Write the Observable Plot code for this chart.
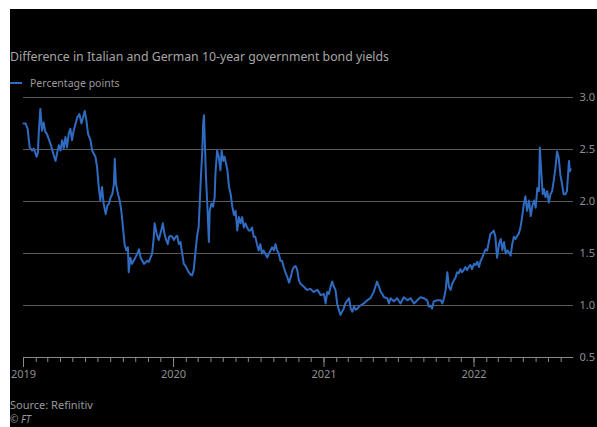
<!DOCTYPE html>
<html><head><meta charset="utf-8">
<script src="https://cdn.jsdelivr.net/npm/d3@7"></script>
<script src="https://cdn.jsdelivr.net/npm/@observablehq/plot@0.6"></script>
<style>
html,body{margin:0;padding:0;background:#fff;}
#frame{position:absolute;left:10px;top:9px;width:587px;height:418px;background:#000;overflow:hidden;font-family:"Noto Sans",sans-serif;color:#9a9a9a;}
#title{position:absolute;left:0;top:40px;font-size:12.3px;line-height:16px;white-space:nowrap;color:#a6a6a6;}
#legend{position:absolute;left:0;top:67px;font-size:10.5px;line-height:14px;white-space:nowrap;color:#9a9a9a;}
#legend .sw{display:inline-block;width:12px;height:2px;background:#2f6bc0;vertical-align:middle;margin-right:8px;position:relative;top:-1px;}
#chart{position:absolute;left:0;top:80px;}
#chart svg{overflow:visible;}
#source{position:absolute;left:0;top:390px;font-size:11px;line-height:12px;color:#9a9a9a;}
#ft{position:absolute;left:0;top:405px;font-size:10px;line-height:11px;color:#9a9a9a;font-style:italic;}
</style></head>
<body>
<div id="frame">
  <div id="title">Difference in Italian and German 10-year government bond yields</div>
  <div id="legend"><span class="sw"></span>Percentage points</div>
  <div id="chart"></div>
  <div id="source">Source: Refinitiv</div>
  <div id="ft">© FT</div>
</div>
<script>
const dates = [
"2019-01-01","2019-01-06","2019-01-11","2019-01-16","2019-01-22","2019-01-26","2019-02-02","2019-02-05","2019-02-07","2019-02-11",
"2019-02-15","2019-02-19","2019-02-23","2019-02-27","2019-03-08","2019-03-16","2019-03-20","2019-03-24","2019-03-28","2019-04-01",
"2019-04-05","2019-04-09","2019-04-13","2019-04-17","2019-04-21","2019-04-25","2019-04-29","2019-05-03","2019-05-12","2019-05-17",
"2019-05-22","2019-05-26","2019-05-30","2019-06-03","2019-06-07","2019-06-13","2019-06-17","2019-06-21","2019-06-25","2019-06-29",
"2019-07-03","2019-07-07","2019-07-11","2019-07-15","2019-07-20","2019-07-24","2019-07-28","2019-08-01","2019-08-05","2019-08-09",
"2019-08-11","2019-08-14","2019-08-19","2019-08-23","2019-08-27","2019-08-30","2019-09-04","2019-09-08","2019-09-12","2019-09-14",
"2019-09-18","2019-09-22","2019-09-26","2019-09-30","2019-10-05","2019-10-09","2019-10-13","2019-10-17","2019-10-21","2019-10-29",
"2019-11-02","2019-11-06","2019-11-10","2019-11-14","2019-11-16","2019-11-21","2019-11-26","2019-12-02","2019-12-06","2019-12-10",
"2019-12-14","2019-12-18","2019-12-21","2019-12-25","2019-12-29","2020-01-02","2020-01-06","2020-01-10","2020-01-14","2020-01-18",
"2020-01-22","2020-01-26","2020-01-30","2020-02-03","2020-02-07","2020-02-11","2020-02-15","2020-02-19","2020-02-23","2020-02-27",
"2020-03-02","2020-03-05","2020-03-08","2020-03-11","2020-03-13","2020-03-15","2020-03-17","2020-03-20","2020-03-23","2020-03-27",
"2020-03-29","2020-04-02","2020-04-06","2020-04-10","2020-04-12","2020-04-16","2020-04-20","2020-04-24","2020-04-27","2020-05-01",
"2020-05-04","2020-05-08","2020-05-11","2020-05-15","2020-05-19","2020-05-23","2020-05-27","2020-05-31","2020-06-04","2020-06-08",
"2020-06-12","2020-06-16","2020-06-20","2020-06-24","2020-06-28","2020-07-02","2020-07-06","2020-07-10","2020-07-14","2020-07-18",
"2020-07-22","2020-07-26","2020-07-30","2020-08-03","2020-08-07","2020-08-11","2020-08-16","2020-08-20","2020-08-24","2020-08-28",
"2020-09-01","2020-09-05","2020-09-09","2020-09-13","2020-09-17","2020-09-21","2020-09-25","2020-09-29","2020-10-04","2020-10-08",
"2020-10-12","2020-10-16","2020-10-20","2020-10-24","2020-10-28","2020-11-01","2020-11-05","2020-11-13","2020-11-21","2020-11-29",
"2020-12-07","2020-12-16","2020-12-24","2021-01-01","2021-01-05","2021-01-09","2021-01-13","2021-01-17","2021-01-21","2021-01-25",
"2021-01-29","2021-02-02","2021-02-06","2021-02-10","2021-02-14","2021-02-18","2021-02-22","2021-02-27","2021-03-03","2021-03-07",
"2021-03-11","2021-03-15","2021-03-19","2021-03-23","2021-03-27","2021-03-31","2021-04-08","2021-04-16","2021-04-24","2021-04-28",
"2021-05-02","2021-05-06","2021-05-10","2021-05-15","2021-05-19","2021-05-23","2021-05-27","2021-06-04","2021-06-08","2021-06-12",
"2021-06-20","2021-06-28","2021-07-06","2021-07-14","2021-07-23","2021-07-31","2021-08-08","2021-08-16","2021-08-24","2021-09-01",
"2021-09-09","2021-09-13","2021-09-17","2021-09-21","2021-09-25","2021-10-04","2021-10-12","2021-10-16","2021-10-20","2021-10-24",
"2021-10-28","2021-11-01","2021-11-05","2021-11-09","2021-11-13","2021-11-17","2021-11-21","2021-11-25","2021-11-29","2021-12-03",
"2021-12-07","2021-12-11","2021-12-15","2021-12-19","2021-12-23","2021-12-27","2022-01-01","2022-01-05","2022-01-09","2022-01-13",
"2022-01-17","2022-01-21","2022-01-25","2022-01-29","2022-02-02","2022-02-06","2022-02-10","2022-02-14","2022-02-18","2022-02-22",
"2022-02-26","2022-03-03","2022-03-07","2022-03-11","2022-03-15","2022-03-19","2022-03-23","2022-03-27","2022-03-31","2022-04-04",
"2022-04-08","2022-04-12","2022-04-16","2022-04-20","2022-04-24","2022-04-28","2022-05-02","2022-05-06","2022-05-10","2022-05-15",
"2022-05-19","2022-05-23","2022-05-27","2022-05-31","2022-06-04","2022-06-08","2022-06-10","2022-06-14","2022-06-17","2022-06-20",
"2022-06-24","2022-06-28","2022-07-02","2022-07-06","2022-07-10","2022-07-14","2022-07-18","2022-07-22","2022-07-26","2022-07-30",
"2022-08-03","2022-08-07","2022-08-11","2022-08-15","2022-08-20","2022-08-22","2022-08-24"
];
const spread = [
2.75,2.75,2.70,2.52,2.49,2.51,2.43,2.47,2.65,2.89,
2.68,2.76,2.67,2.65,2.55,2.44,2.39,2.47,2.54,2.49,
2.59,2.51,2.62,2.52,2.65,2.70,2.59,2.68,2.81,2.84,
2.75,2.81,2.87,2.78,2.65,2.59,2.49,2.46,2.43,2.33,
2.14,2.01,2.14,1.98,1.88,1.96,1.98,2.04,2.07,2.17,
2.41,2.17,2.07,2.01,1.91,1.79,1.59,1.53,1.56,1.32,
1.46,1.40,1.43,1.46,1.50,1.54,1.46,1.43,1.40,1.43,
1.42,1.46,1.50,1.66,1.79,1.69,1.63,1.72,1.79,1.69,
1.63,1.59,1.66,1.67,1.66,1.63,1.66,1.67,1.59,1.61,
1.50,1.40,1.38,1.35,1.32,1.30,1.29,1.34,1.50,1.66,
1.75,2.01,2.27,2.49,2.75,2.83,2.59,2.23,1.98,1.61,
1.91,1.98,1.95,2.04,2.27,2.49,2.43,2.30,2.49,2.39,
2.43,2.36,2.30,2.14,2.07,1.95,1.87,1.91,1.72,1.85,
1.79,1.85,1.75,1.79,1.75,1.72,1.72,1.75,1.66,1.66,
1.59,1.53,1.59,1.50,1.53,1.50,1.46,1.50,1.53,1.56,
1.53,1.59,1.53,1.50,1.43,1.43,1.37,1.32,1.27,1.22,
1.27,1.34,1.37,1.38,1.34,1.24,1.21,1.18,1.15,1.16,
1.13,1.15,1.10,1.11,1.02,1.13,1.11,1.18,1.23,1.18,
1.15,1.02,0.96,0.91,0.94,0.97,1.02,1.05,1.07,0.97,
0.94,0.99,0.96,0.97,0.99,1.00,1.02,1.05,1.07,1.10,
1.13,1.18,1.23,1.18,1.13,1.11,1.08,1.07,1.02,1.07,
1.04,1.07,1.02,1.08,1.05,1.07,1.02,1.05,1.08,1.07,
1.05,0.99,1.00,0.97,1.04,1.05,1.05,1.02,1.07,1.15,
1.32,1.18,1.15,1.21,1.24,1.27,1.32,1.31,1.35,1.32,
1.34,1.37,1.34,1.37,1.39,1.35,1.40,1.39,1.42,1.37,
1.43,1.46,1.50,1.54,1.53,1.61,1.69,1.70,1.72,1.66,
1.46,1.59,1.64,1.53,1.61,1.50,1.53,1.51,1.48,1.59,
1.66,1.64,1.67,1.69,1.75,1.85,1.97,2.05,1.91,2.01,
1.86,1.96,2.01,1.94,2.13,2.10,2.52,2.26,2.07,2.12,
2.04,2.10,1.99,2.07,2.10,2.20,2.32,2.48,2.42,2.26,
2.17,2.07,2.07,2.10,2.39,2.29,2.31
];
const yTicks = [0.5, 1.0, 1.5, 2.0, 2.5, 3.0];
const xStart = "2019-01-01", xEnd = "2022-08-31";

const data = dates.map((d, i) => ({date: new Date(d), value: spread[i]}));
const start = new Date(xStart), end = new Date(xEnd);
const months = d3.utcMonth.range(start, end);
const years = d3.utcYear.range(start, end);

const chart = Plot.plot({
  width: 587, height: 300,
  marginLeft: 13, marginRight: 24, marginTop: 8, marginBottom: 32,
  style: {background: "transparent", fontFamily: "Noto Sans, sans-serif", overflow: "visible"},
  x: {type: "utc", domain: [start, end]},
  y: {domain: [0.5, 3.0]},
  marks: [
    Plot.ruleY(yTicks.filter(d => d > 0.5), {stroke: "#5a5a5a", strokeWidth: 1}),
    Plot.ruleY([0.5], {stroke: "#8a8a8a", strokeWidth: 1}),
    Plot.axisX({ticks: months, tickSize: 5, tickFormat: () => "", stroke: "#8a8a8a", label: null}),
    Plot.axisX({ticks: years, tickSize: 10, tickPadding: 3, tickFormat: "%Y", stroke: "#8a8a8a", fill: "#8f8f8f", fontSize: 11, label: null}),
    Plot.axisY({anchor: "right", ticks: yTicks, tickSize: 0, tickPadding: 6, tickFormat: d3.format(".1f"), fill: "#8f8f8f", fontSize: 11, label: null}),
    Plot.lineY(data, {x: "date", y: "value", stroke: "#2f6bc0", strokeWidth: 2, strokeLinejoin: "round"})
  ]
});
document.getElementById("chart").appendChild(chart);
</script>
</body></html>
